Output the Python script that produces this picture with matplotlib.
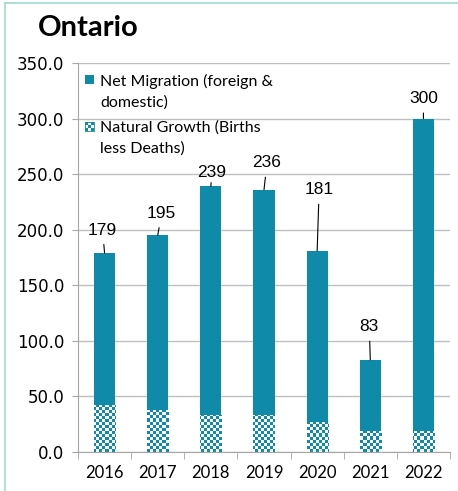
import numpy as np
import matplotlib
matplotlib.use('Agg')
import matplotlib.pyplot as plt
from matplotlib.colors import ListedColormap
from matplotlib.patches import Patch, Rectangle
from matplotlib.legend_handler import HandlerBase
from matplotlib.lines import Line2D

# data (thousands of people)
years = ['2016', '2017', '2018', '2019', '2020', '2021', '2022']
total = [179, 195, 239, 236, 181, 83, 300]
natural = [42, 38, 33, 33, 27, 19, 19]
migration = [t - n for t, n in zip(total, natural)]

# label offsets (pixels) from the top of each bar
label_dx = [-2, 4, 1, 3, 2, -1, 0]
label_dy = [23, 22, 14, 27, 61, 33, 20]

teal = '#0F8AA8'


class SquareHandler(HandlerBase):
    def __init__(self, checker=False):
        super().__init__()
        self.checker = checker

    def create_artists(self, legend, orig_handle, xdescent, ydescent,
                       width, height, fontsize, trans):
        s = 6.5
        x0 = -xdescent
        y0 = -ydescent + height / 2 - s / 2 + 8.5
        if not self.checker:
            return [Rectangle((x0, y0), s, s, facecolor=teal,
                              edgecolor='none', transform=trans)]
        arts = [Rectangle((x0, y0), s, s, facecolor='white',
                          edgecolor=teal, lw=0.6, transform=trans)]
        c = s / 3
        for i in range(3):
            for j in range(3):
                if (i + j) % 2 == 0:
                    arts.append(Rectangle((x0 + i * c, y0 + j * c), c, c,
                                          facecolor=teal, edgecolor='none',
                                          transform=trans))
        return arts


fig = plt.figure(figsize=(4.58, 4.91), dpi=100)
ax = fig.add_axes([78 / 458, 39 / 491, 372 / 458, 389 / 491])

x = np.arange(len(years))
nat_bars = ax.bar(x, natural, width=0.4, color='white', edgecolor='none', zorder=1)
ax.bar(x, migration, bottom=natural, width=0.4, color=teal, edgecolor='none', zorder=1)

# checkerboard fill for the natural growth part
board = np.add.outer(np.arange(130), np.arange(124)) % 2
cmap = ListedColormap(['white', teal])
for p in nat_bars:
    im = ax.imshow(board, extent=(-0.5, 6.5, 0, 350), origin='lower', cmap=cmap,
                   interpolation='nearest', aspect='auto', zorder=1.5)
    im.set_clip_path(p)

for i, t in enumerate(total):
    ax.annotate(str(t), xy=(x[i], t), xytext=(label_dx[i], label_dy[i]),
                textcoords='offset pixels', ha='center', va='center',
                fontsize=12.5, family='Liberation Sans', color='black',
                arrowprops=dict(arrowstyle='-', color='black', lw=0.8,
                                shrinkA=3, shrinkB=0))

ax.set_xlim(-0.5, 6.5)
ax.set_ylim(0, 350)
ax.set_yticks(np.arange(0, 351, 50))
ax.set_yticklabels(['%.1f' % v for v in np.arange(0, 351, 50)])
ax.set_xticks(x)
ax.set_xticklabels(years, family='Lato', fontsize=12)
ax.set_xticks(np.arange(-0.5, 7, 1), minor=True)
ax.tick_params(axis='x', which='major', length=0, pad=9)
ax.tick_params(axis='x', which='minor', length=5, color='#A6A6A6')
ax.tick_params(axis='y', length=4, color='#A6A6A6', pad=6, labelsize=12)
ax.yaxis.grid(True, color='#BFBFBF', lw=1)
ax.set_axisbelow(True)
for s in ['top', 'right']:
    ax.spines[s].set_visible(False)
for s in ['left', 'bottom']:
    ax.spines[s].set_color('#A6A6A6')

handles = [Patch(color=teal), Patch(facecolor='white')]
labels = ['Net Migration (foreign &\ndomestic)', 'Natural Growth (Births\nless Deaths)']
leg = ax.legend(handles, labels, loc='upper left',
                bbox_to_anchor=(85 / 458, 1 - 74 / 491), bbox_transform=fig.transFigure,
                frameon=False, borderpad=0, borderaxespad=0,
                handlelength=0.55, handletextpad=0.4, labelspacing=0.7,
                prop={'family': 'Lato', 'size': 11.5},
                handler_map={handles[0]: SquareHandler(False),
                             handles[1]: SquareHandler(True)})
for t in leg.get_texts():
    t.set_linespacing(1.55)

fig.text(38 / 458, 1 - 28 / 491, 'Ontario', fontsize=21, fontweight='bold',
         family='Lato', va='center')

border = '#A3D9CC'
fig.add_artist(Line2D([5 / 458, 5 / 458], [0, 1 - 3 / 491], color=border, lw=1.2))
fig.add_artist(Line2D([5 / 458, 1], [1 - 3 / 491, 1 - 3 / 491], color=border, lw=1.2))

fig.savefig('out.png', dpi=100)
